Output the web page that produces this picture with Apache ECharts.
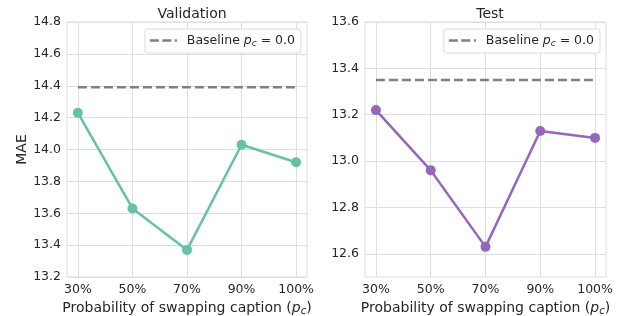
<!DOCTYPE html>
<html><head><meta charset="utf-8">
<script src="https://cdn.jsdelivr.net/npm/echarts@6/dist/echarts.min.js"></script>
<style>html,body{margin:0;padding:0;background:#fff}#c{width:617px;height:316px}</style>
</head><body><div id="c"></div>
<script>
var categories = ['30%', '50%', '70%', '90%', '100%'];
var valValues = [14.23, 13.63, 13.37, 14.03, 13.92];
var testValues = [13.22, 12.96, 12.63, 13.13, 13.10];
var valBaseline = 14.39;
var testBaseline = 13.35;
var valTicks = [13.2, 14.8, 0.2];
var testTicks = [12.5, 13.6];

var FONT = 'DejaVu Sans';
var TXT = '#262626';
var GRIDC = '#dedede';
var chart = echarts.init(document.getElementById('c'), null, {renderer: 'canvas'});

function pts(vals) { return vals.map(function (v, i) { return [i, v]; }); }
function basePts(b) { return [[0, b], [categories.length - 1, b]]; }
var rich = {
  i: {fontFamily: FONT, fontStyle: 'italic', fontSize: 14, color: TXT},
  s: {fontFamily: FONT, fontStyle: 'italic', fontSize: 10, color: TXT, padding: [7, 0, 0, 0]},
  n: {fontFamily: FONT, fontSize: 14, color: TXT}
};
var richL = {
  b: {fontFamily: FONT, fontSize: 12.5, color: TXT, padding: [0, 0, 0, 5]},
  i: {fontFamily: FONT, fontStyle: 'italic', fontSize: 12.5, color: TXT},
  s: {fontFamily: FONT, fontStyle: 'italic', fontSize: 9, color: TXT, padding: [6, 0, 0, 0]},
  n: {fontFamily: FONT, fontSize: 12.5, color: TXT}
};
var dashIcon = 'path://M0,0h9v2.5h-9z M12.5,0h9v2.5h-9z M25,0h2v2.5h-2z';
function xAxis(gi) {
  return {
    type: 'value', gridIndex: gi, min: -0.2, max: categories.length - 1 + 0.2, interval: 0.2,
    axisLine: {show: false}, axisTick: {show: false},
    splitLine: {show: true, lineStyle: {color: ['transparent', GRIDC, 'transparent', 'transparent', 'transparent'], width: 1}},
    axisLabel: {
      fontFamily: FONT, fontSize: 12.5, color: TXT, margin: 6,
      formatter: function (v) {
        var r = Math.round(v);
        if (Math.abs(v - r) < 1e-6 && r >= 0 && r < categories.length) return categories[r];
        return '';
      }
    },
    name: 'Probability of swapping caption ({i|p}{s|c}{n|)}',
    nameLocation: 'middle', nameGap: 20,
    nameTextStyle: {fontFamily: FONT, fontSize: 14, color: TXT, rich: rich}
  };
}
function legend(name, right) {
  return {data: [{name: name, icon: dashIcon}], right: right, top: 29, orient: 'vertical', itemWidth: 27, itemHeight: 2.5, itemGap: 0,
    backgroundColor: '#fff', borderColor: '#dcdcdc', borderWidth: 1, borderRadius: 3, padding: [5, 6, 5, 5],
    itemStyle: {color: '#808080'},
    formatter: function () { return '{b|Baseline }{i|p}{s|c}{n| = 0.0}'; },
    textStyle: {rich: richL, fontFamily: FONT, fontSize: 12.5, color: TXT}};
}
var option = {
  animation: false,
  backgroundColor: '#fff',
  title: [
    {text: 'Validation', left: 187, top: 2, textAlign: 'center', textStyle: {fontFamily: FONT, fontSize: 14, fontWeight: 'normal', color: TXT}},
    {text: 'Test', left: 485, top: 2, textAlign: 'center', textStyle: {fontFamily: FONT, fontSize: 14, fontWeight: 'normal', color: TXT}}
  ],
  legend: [legend('Baseline v', 316), legend('Baseline t', 17)],
  grid: [
    {left: 67, top: 22, width: 240, height: 255, outerBoundsMode: 'none', containLabel: false, show: true, borderColor: GRIDC, borderWidth: 1, backgroundColor: '#fff'},
    {left: 365, top: 22, width: 241, height: 255, outerBoundsMode: 'none', containLabel: false, show: true, borderColor: GRIDC, borderWidth: 1, backgroundColor: '#fff'}
  ],
  xAxis: [xAxis(0), xAxis(1)],
  yAxis: [
    {type: 'value', gridIndex: 0, min: valTicks[0], max: valTicks[1], interval: valTicks[2],
     axisLine: {show: false}, axisTick: {show: false},
     splitLine: {lineStyle: {color: GRIDC}},
     axisLabel: {fontFamily: FONT, fontSize: 12.5, color: TXT, margin: 6, formatter: function (v) { return v.toFixed(1); }},
     name: 'MAE', nameLocation: 'middle', nameGap: 38, nameTextStyle: {fontFamily: FONT, fontSize: 14, color: TXT}},
    {type: 'value', gridIndex: 1, min: testTicks[0], max: testTicks[1], interval: 0.1,
     axisLine: {show: false}, axisTick: {show: false},
     splitLine: {lineStyle: {color: ['transparent', GRIDC]}},
     axisLabel: {fontFamily: FONT, fontSize: 12.5, color: TXT, margin: 6,
       formatter: function (v) { return (Math.round(v * 10) % 2 === 0) ? v.toFixed(1) : ''; }}}
  ],
  series: [
    {name: 'Baseline v', type: 'line', xAxisIndex: 0, yAxisIndex: 0, data: basePts(valBaseline), symbol: 'none',
     lineStyle: {color: '#808080', width: 2.5, type: [9, 4]}, itemStyle: {color: '#808080'}, z: 3},
    {name: 'val', type: 'line', xAxisIndex: 0, yAxisIndex: 0, data: pts(valValues), symbol: 'circle', symbolSize: 10,
     lineStyle: {color: '#66c2a5', width: 2.5}, itemStyle: {color: '#66c2a5'}, z: 4},
    {name: 'Baseline t', type: 'line', xAxisIndex: 1, yAxisIndex: 1, data: basePts(testBaseline), symbol: 'none',
     lineStyle: {color: '#808080', width: 2.5, type: [9, 4]}, itemStyle: {color: '#808080'}, z: 3},
    {name: 'test', type: 'line', xAxisIndex: 1, yAxisIndex: 1, data: pts(testValues), symbol: 'circle', symbolSize: 10,
     lineStyle: {color: '#9467bd', width: 2.5}, itemStyle: {color: '#9467bd'}, z: 4}
  ]
};
chart.setOption(option);
</script></body></html>
